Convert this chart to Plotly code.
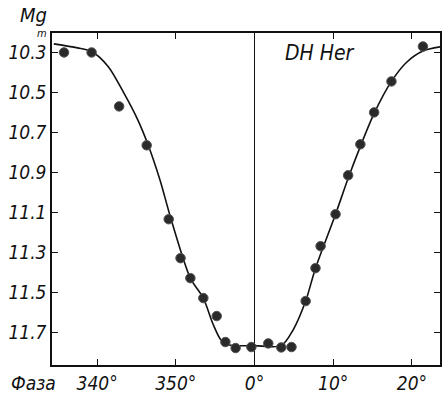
import plotly.graph_objects as go

# Observed points: phase (degrees, relative to 0°) and magnitude
phase_obs = [-24.2, -20.7, -17.2, -13.7, -10.9, -9.4, -8.15, -6.5, -4.8, -3.7, -2.4, -0.4,
             1.75, 3.4, 4.7, 6.5, 7.75, 8.4, 10.3, 11.9, 13.45, 15.2, 17.4, 21.4]
mag_obs = [10.30, 10.30, 10.57, 10.765, 11.135, 11.33, 11.43, 11.53, 11.62, 11.75, 11.78, 11.775,
           11.757, 11.777, 11.775, 11.545, 11.38, 11.27, 11.11, 10.915, 10.76, 10.60, 10.445, 10.27]

# Mean light curve
phase_curve = [-25.5, -22.5, -20.7, -18.6, -16.5, -14.8, -13.5, -12.0, -10.6, -8.15, -6.5, -5.3,
               -4.25, -3.2, 0.0, 3.4, 4.9, 6.5, 7.75, 10.3, 11.9, 13.45, 15.2, 17.4, 19.3, 21.4, 23.6]
mag_curve = [10.257, 10.277, 10.295, 10.37, 10.51, 10.64, 10.765, 10.94, 11.135, 11.43, 11.53, 11.657,
             11.74, 11.765, 11.768, 11.768, 11.69, 11.545, 11.38, 11.11, 10.93, 10.77, 10.605, 10.445,
             10.35, 10.293, 10.272]

x_tickvals = [-20, -10, 0, 10, 20]
x_ticktext = ["340°", "350°", "0°", "10°", "20°"]
y_tickvals = [10.3, 10.5, 10.7, 10.9, 11.1, 11.3, 11.5, 11.7]
y_ticktext = ["10.3", "10.5", "10.7", "10.9", "11.1", "11.3", "11.5", "11.7"]

FONT = "DejaVu Sans Condensed"

W, H = 444, 394
L, R, T, B = 52, 4, 33, 29
pw, ph = W - L - R, H - T - B

def px(xp):
    return (xp - L) / pw

def py(yp):
    return (H - B - yp) / ph

fig = go.Figure()
fig.add_trace(go.Scatter(x=phase_curve, y=mag_curve, mode="lines",
                         line=dict(color="#111", width=1.6, shape="spline", smoothing=0.8),
                         hoverinfo="skip", showlegend=False))
fig.add_trace(go.Scatter(x=phase_obs, y=mag_obs, mode="markers",
                         marker=dict(size=9.5, color="#2a2a2a", line=dict(color="#555", width=1)),
                         showlegend=False))

axis_common = dict(ticks="inside", ticklen=6, tickwidth=1.3, tickcolor="#111",
                   showline=True, linecolor="#111", linewidth=1.5, mirror="ticks",
                   showgrid=False, automargin=False,
                   tickfont=dict(family=FONT, size=19, style="italic", color="#111"))

fig.update_layout(
    width=W, height=H,
    margin=dict(l=L, r=R, t=T, b=B, pad=0),
    paper_bgcolor="white", plot_bgcolor="white",
    font=dict(family=FONT, color="#111"),
    xaxis=dict(range=[-25.73, 23.57], tickvals=x_tickvals, ticktext=x_ticktext,
               zeroline=True, zerolinecolor="#111", zerolinewidth=1.2, **axis_common),
    yaxis=dict(range=[11.865, 10.2025], tickvals=y_tickvals, ticktext=y_ticktext,
               zeroline=False, **axis_common),
    annotations=[
        dict(text="DH Her", x=px(320), y=py(53), xref="paper", yref="paper", showarrow=False,
             xanchor="center", yanchor="middle",
             font=dict(family=FONT, size=21, style="italic", color="#111")),
        dict(text="Фаза", x=px(33), y=py(383), xref="paper", yref="paper", showarrow=False,
             xanchor="center", yanchor="middle",
             font=dict(family=FONT, size=19, style="italic", color="#111")),
        dict(text="Mg", x=px(33), y=py(15), xref="paper", yref="paper", showarrow=False,
             xanchor="center", yanchor="middle",
             font=dict(family=FONT, size=20, style="italic", color="#111")),
        dict(text="m", x=px(42), y=py(33.5), xref="paper", yref="paper", showarrow=False,
             xanchor="center", yanchor="middle",
             font=dict(family=FONT, size=11, style="italic", color="#111")),
    ],
)

fig.write_html("out.html", config={"displayModeBar": False},
               post_script="document.body.style.margin='0';document.body.style.padding='0';")
